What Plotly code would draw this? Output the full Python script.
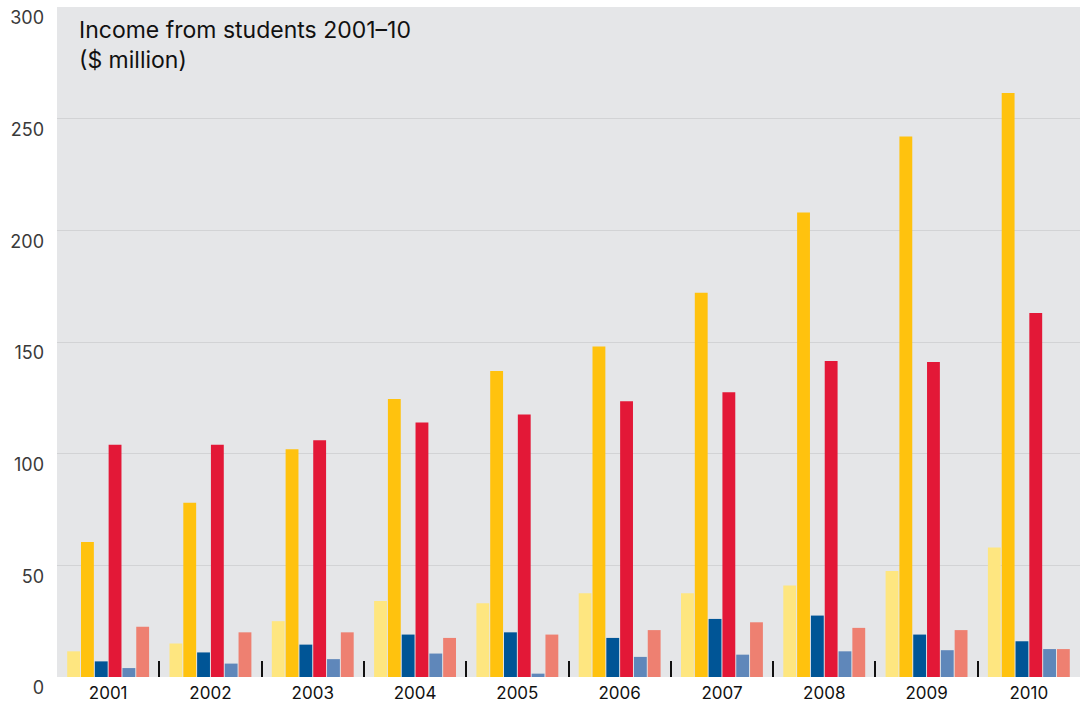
import plotly.graph_objects as go

years = ["2001", "2002", "2003", "2004", "2005", "2006", "2007", "2008", "2009", "2010"]
s_lightyellow = [11.5, 15, 25, 34, 33, 37.5, 37.5, 41, 47.5, 58]
s_gold = [60.5, 78, 102, 124.5, 137, 148, 172, 208, 242, 261.5]
s_darkblue = [7, 11, 14.5, 19, 20, 17.5, 26, 27.5, 19, 16]
s_red = [104, 104, 106, 114, 117.5, 123.5, 127.5, 141.5, 141, 163]
s_lightblue = [4, 6, 8, 10.5, 1.5, 9, 10, 11.5, 12, 12.5]
s_salmon = [22.5, 20, 20, 17.5, 19, 21, 24.5, 22, 21, 12.5]

series = [
    ("Series 1", s_lightyellow, "#FEE680"),
    ("Series 2", s_gold, "#FFC20E"),
    ("Series 3", s_darkblue, "#005596"),
    ("Series 4", s_red, "#E31837"),
    ("Series 5", s_lightblue, "#5F87BA"),
    ("Series 6", s_salmon, "#EE8071"),
]

xpos = list(range(len(years)))
boundaries = [i + 0.5 for i in range(len(years) - 1)]

fig = go.Figure()
for name, vals, col in series:
    fig.add_trace(go.Bar(x=xpos, y=vals, name=name, marker=dict(color=col, line=dict(width=0))))

fig.update_layout(
    width=1082, height=708,
    margin=dict(l=57, r=2, t=7, b=31),
    paper_bgcolor="white",
    plot_bgcolor="#E5E6E8",
    barmode="group",
    bargap=0.19,
    bargroupgap=0.07,
    showlegend=False,
    font=dict(family="Inter, Roboto, sans-serif"),
    xaxis=dict(
        range=[-0.5, 9.5],
        tickmode="array", tickvals=xpos, ticktext=years,
        showgrid=False, zeroline=False, showline=False,
        ticks="",
        tickfont=dict(size=17, color="#111111"),
        ticklabelstandoff=4,
        minor=dict(tickmode="array", tickvals=boundaries, ticks="inside",
                   ticklen=16, tickwidth=2, tickcolor="#111111", showgrid=False),
    ),
    yaxis=dict(
        range=[0, 300],
        tickmode="array",
        tickvals=[0, 50, 100, 150, 200, 250, 300],
        showgrid=True, gridcolor="#D2D3D5", gridwidth=1,
        zeroline=False, showline=False, ticks="",
        tickfont=dict(size=18, color="#3A3A3A"),
        ticklabelstandoff=12,
        ticklabelshift=11,
        ticklabeloverflow="allow",
    ),
    annotations=[
        dict(text="Income from students 2001–10<br>($ million)",
             xref="paper", yref="paper", x=0.02, y=0.99,
             xanchor="left", yanchor="top", align="left", showarrow=False,
             font=dict(size=23, color="#111111", family="Inter, Roboto, sans-serif")),
    ],
)

fig.write_html("out.html")
